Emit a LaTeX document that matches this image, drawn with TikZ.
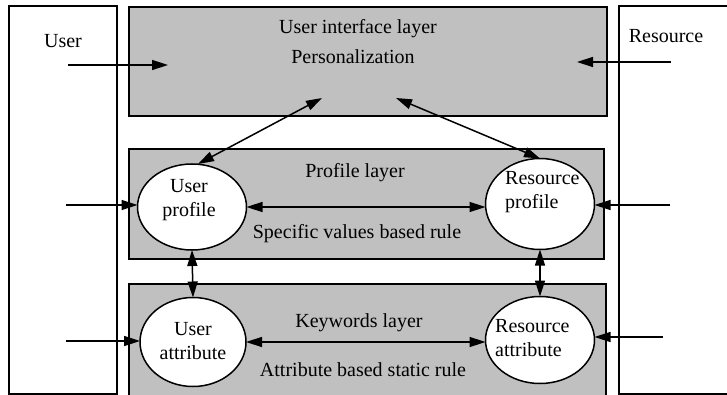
\documentclass[tikz,border=0pt]{standalone}
\usepackage{fontspec}
\setmainfont{Liberation Serif}
\usetikzlibrary{shapes.geometric,arrows.meta}
\definecolor{layergray}{HTML}{C0C0C0}
\tikzset{
  box/.style={draw=black, line width=1.6pt, inner sep=0pt, outer sep=0pt, anchor=north west},
  layer/.style={box, fill=layergray},
  actor/.style={box, fill=white},
  oval/.style={ellipse, draw=black, fill=white, line width=1.5pt, inner sep=0pt, outer sep=0pt},
  txt/.style={inner sep=0pt, font=\fontsize{20}{24}\selectfont},
  arr/.style={line width=1.5pt, -{Triangle[length=16pt,width=10pt]}},
  darr/.style={line width=1.5pt, {Triangle[length=16pt,width=10pt]}-{Triangle[length=16pt,width=10pt]}},
}
\begin{document}
\begin{tikzpicture}[x=1pt,y=-1pt]
\useasboundingbox (0,0) rectangle (727,395);
\fill[white] (0,0) rectangle (727,395);
% actor boxes
\node[actor, minimum width=108pt, minimum height=388pt] (userbox) at (9,6) {};
\node[actor, minimum width=130pt, minimum height=388pt] (resbox) at (619,6) {};
% layers
\node[layer, minimum width=478pt, minimum height=109pt] (ui) at (129,7) {};
\node[layer, minimum width=475pt, minimum height=110pt] (pl) at (129,149) {};
\node[layer, minimum width=477pt, minimum height=112pt] (kl) at (129,284) {};
% texts
\node[txt] (t1) at (358,29) {User interface layer};
\node[txt] (t2) at (353,57) {Personalization};
\node[txt] (tu) at (63,41) {User};
\node[txt] (tr) at (666,36) {Resource};
\node[txt] (t3) at (355,173) {Profile layer};
\node[txt] (t4) at (357,234) {Specific values based rule};
\node[txt] (t5) at (359,323) {Keywords layer};
\node[txt] (t6) at (363,370) {Attribute based static rule};
% ellipses
\node[oval, minimum width=109pt, minimum height=86pt] (up) at (192,207) {};
\node[oval, minimum width=109pt, minimum height=91pt] (rp) at (540,204) {};
\node[oval, minimum width=106pt, minimum height=89pt] (ua) at (193,342) {};
\node[oval, minimum width=109pt, minimum height=87pt] (ra) at (540,340) {};
\node[txt, align=center] (upt) at (189,200) {User\\profile};
\node[txt, align=left, anchor=west] (rpt) at (505,192) {Resource\\profile};
\node[txt, align=center] (uat) at (193,341) {User\\attribute};
\node[txt, align=left, anchor=west] (rat) at (495,338) {Resource\\attribute};
% free ends
\coordinate (uin) at (68,65);
\coordinate (uiu) at (168,65);
\coordinate (rin) at (671,62);
\coordinate (uir) at (577,62);
\coordinate (uil) at (322,98);
\coordinate (uirr) at (396,98);
\coordinate (upin) at (66,205);
\coordinate (rpin) at (670,205);
\coordinate (uain) at (66,341);
\coordinate (rain) at (663,337);
\coordinate (upn) at ([xshift=6pt]up.north);
% connectors
\draw[arr] (uin) -- (uiu);
\draw[arr] (rin) -- (uir);
\draw[darr] (upn) -- (uil);
\draw[darr] (uirr) -- (rp.north);
\draw[darr] (up.east) -- (up.east -| rp.west);
\draw[arr] (upin) -- (upin -| up.west);
\draw[arr] (rpin) -- (rpin -| rp.east);
\draw[darr] (up.south) -- (ua.north);
\draw[darr] (rp.south) -- (ra.north);
\draw[darr] (ua.east) -- (ua.east -| ra.west);
\draw[arr] (uain) -- (uain -| ua.west);
\draw[arr] (rain) -- (rain -| ra.east);
\end{tikzpicture}
\end{document}
